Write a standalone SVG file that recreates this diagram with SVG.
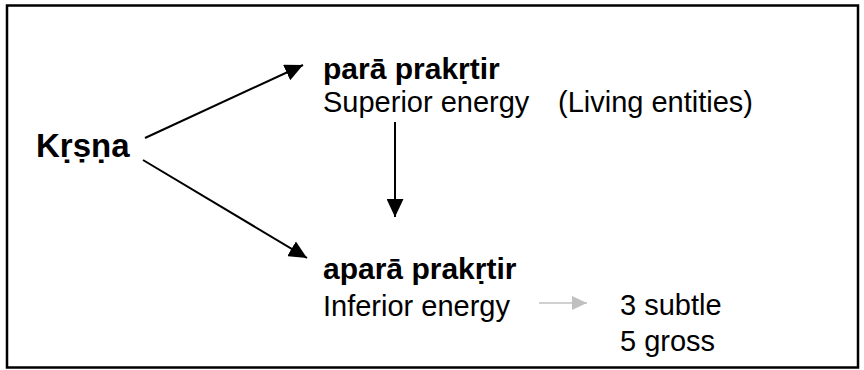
<svg xmlns="http://www.w3.org/2000/svg" width="864" height="370" viewBox="0 0 864 370">
<style>
.t{font-family:"Liberation Sans",Arial,sans-serif;fill:#000}
.b{font-weight:bold}
.c{stroke:#000;stroke-width:2;fill:none}
.g{stroke:#c0c0c0;stroke-width:1.5;fill:none}
</style>
<defs>
<marker id="ah" markerUnits="userSpaceOnUse" markerWidth="19" markerHeight="17" refX="18" refY="8.5" orient="auto">
<path d="M0,0 L18,8.5 L0,17 Z" fill="#000"/>
</marker>
<marker id="ahg" markerUnits="userSpaceOnUse" markerWidth="16" markerHeight="14" refX="15" refY="7" orient="auto">
<path d="M0,0 L15,7 L0,14 Z" fill="#c0c0c0"/>
</marker>
</defs>
<rect x="7" y="5.5" width="851" height="362" fill="#fff" stroke="#000" stroke-width="2.5"/>
<g id="krsna"><text class="t b" x="36" y="157" font-size="33">Kṛṣṇa</text></g>
<g id="para">
<text class="t b" x="323" y="79" font-size="30">parā prakṛtir</text>
<text class="t" x="323" y="112" font-size="29">Superior energy<tspan x="558">(Living entities)</tspan></text>
</g>
<g id="apara">
<text class="t b" x="323" y="279" font-size="30">aparā prakṛtir</text>
<text class="t" x="323" y="316" font-size="29">Inferior energy</text>
</g>
<g id="elements">
<text class="t" x="620" y="315" font-size="29">3 subtle</text>
<text class="t" x="620" y="351" font-size="29">5 gross</text>
</g>
<g id="connectors">
<line class="c" x1="145" y1="138" x2="303" y2="65" marker-end="url(#ah)"/>
<line class="c" x1="143" y1="160" x2="307" y2="258" marker-end="url(#ah)"/>
<line class="c" x1="395" y1="122" x2="395" y2="217" marker-end="url(#ah)"/>
<line class="g" x1="539" y1="303" x2="587" y2="303" marker-end="url(#ahg)"/>
</g>
</svg>
